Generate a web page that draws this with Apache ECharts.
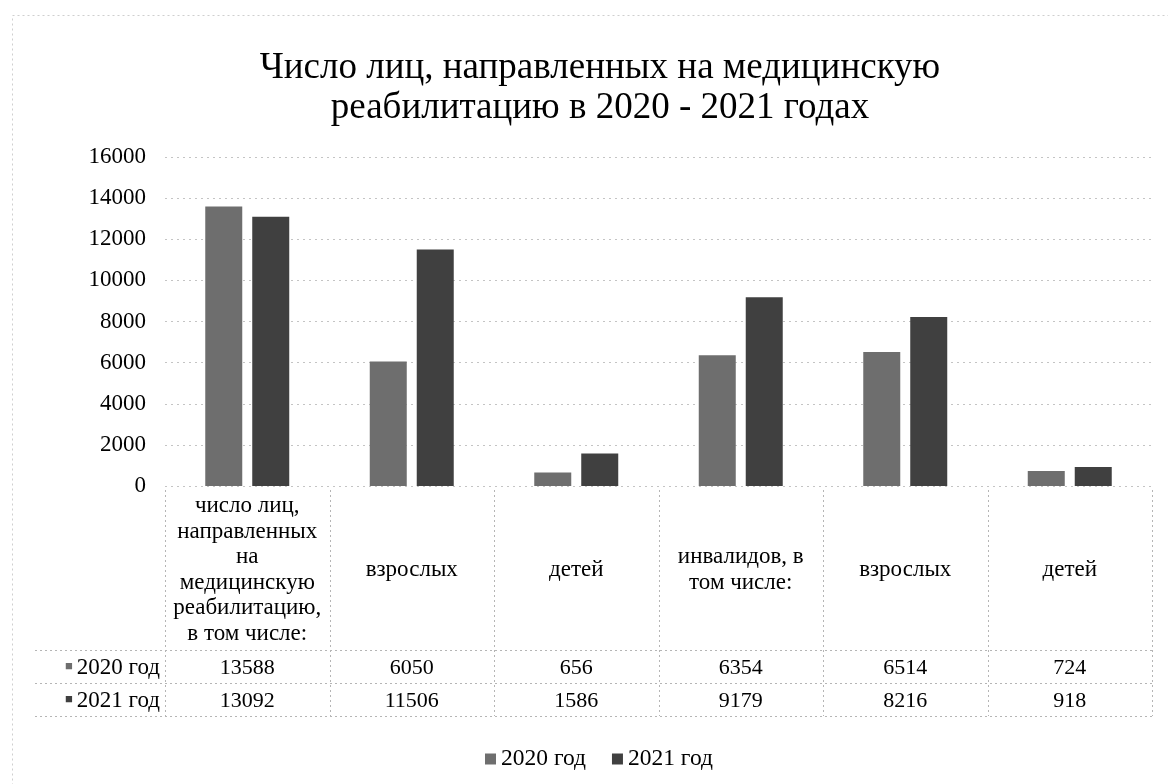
<!DOCTYPE html>
<html>
<head>
<meta charset="utf-8">
<script src="https://cdn.jsdelivr.net/npm/echarts@6/dist/echarts.min.js"></script>
<style>
  html, body { margin: 0; padding: 0; background: #fff; }
  #chart { width: 1168px; height: 784px; }
</style>
</head>
<body>
<div id="chart"></div>
<script>
var categories = [
    "число лиц,\nнаправленных\nна\nмедицинскую\nреабилитацию,\nв том числе:",
    "взрослых",
    "детей",
    "инвалидов, в\nтом числе:",
    "взрослых",
    "детей"
];
var seriesNames = ["2020 год", "2021 год"];
var values2020 = [13588, 6050, 656, 6354, 6514, 724];
var values2021 = [13092, 11506, 1586, 9179, 8216, 918];
var colors = ["#6e6e6e", "#404040"];

var serif = "'Liberation Serif', 'Times New Roman', serif";
var gridLeft = 165, gridRight = 1152, axisY = 486;
var colW = (gridRight - gridLeft) / categories.length;

var chart = echarts.init(document.getElementById("chart"));

// линии таблицы данных
var tableLines = [];
var dot = { stroke: "#b5b5b5", lineWidth: 1, lineDash: [2, 3] };
for (var i = 0; i <= categories.length; i++) {
    var x = Math.round(gridLeft + i * colW) + 0.5;
    tableLines.push({ type: "line", shape: { x1: x, y1: 490, x2: x, y2: 716 }, style: dot, silent: true });
}
[650, 683, 716].forEach(function(y) {
    tableLines.push({ type: "line", shape: { x1: 35, y1: y + 0.5, x2: gridRight, y2: y + 0.5 }, style: dot, silent: true });
});
// подписи строк таблицы
[668, 701].forEach(function(y, k) {
    tableLines.push({
        type: "text", x: 160, y: y, silent: true,
        style: {
            text: "{s|■}" + seriesNames[k],
            font: "23px " + serif, fill: "#000",
            align: "right", verticalAlign: "middle",
            rich: { s: { fill: colors[k], fontSize: 13, padding: [0, 4, 3, 0] } }
        }
    });
});
// рамка диаграммы
tableLines.push({ type: "rect", shape: { x: 12.5, y: 15.5, width: 1160, height: 780 }, style: { fill: "none", stroke: "#cfcfcf", lineDash: [2, 3] }, silent: true });

function valueAxis(data, margin) {
    return {
        type: "category", gridIndex: 0, position: "bottom",
        data: data.map(String),
        axisLine: { show: false }, axisTick: { show: false },
        axisLabel: { margin: margin, verticalAlign: "middle", fontFamily: serif, fontSize: 22, color: "#000", interval: 0 }
    };
}

chart.setOption({
    backgroundColor: "#fff",
    animation: false,
    title: {
        text: "Число лиц, направленных на медицинскую\nреабилитацию в 2020 - 2021 годах",
        left: 595, top: 43, textAlign: "center",
        textStyle: { fontFamily: serif, fontSize: 37, fontWeight: "normal", color: "#000", lineHeight: 40 }
    },
    legend: {
        data: seriesNames, bottom: 8, left: 480,
        icon: "rect", itemWidth: 11, itemHeight: 11, itemGap: 26,
        textStyle: { fontFamily: serif, fontSize: 23.5, color: "#000" }
    },
    grid: { left: gridLeft, right: 1168 - gridRight, top: 157, bottom: 784 - axisY },
    xAxis: [
        {
            type: "category", data: categories,
            axisLine: { show: false }, axisTick: { show: false },
            axisLabel: { interval: 0, margin: 84, verticalAlign: "middle", fontFamily: serif, fontSize: 23, lineHeight: 25.5, color: "#000" }
        },
        valueAxis(values2020, 182),
        valueAxis(values2021, 215)
    ],
    yAxis: {
        type: "value", min: 0, max: 16000, interval: 2000,
        axisLine: { show: false }, axisTick: { show: false },
        axisLabel: { fontFamily: serif, fontSize: 23, color: "#000", margin: 19, formatter: function(v) { return String(v); } },
        splitLine: { lineStyle: { color: "#c4c4c4", type: [2, 4] } }
    },
    series: [
        { name: seriesNames[0], type: "bar", data: values2020, barWidth: 37, barGap: "27%", itemStyle: { color: colors[0] } },
        { name: seriesNames[1], type: "bar", data: values2021, barWidth: 37, itemStyle: { color: colors[1] } }
    ],
    graphic: tableLines
});
</script>
</body>
</html>
